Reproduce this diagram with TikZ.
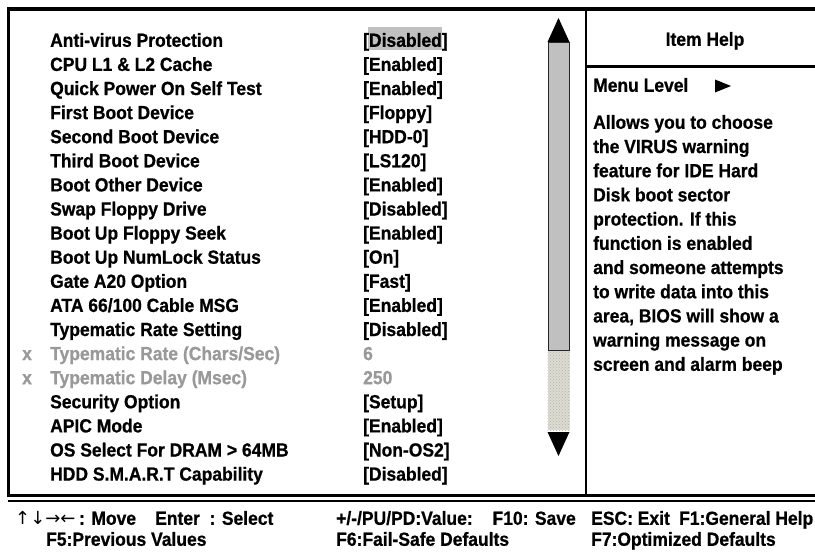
\documentclass[tikz,border=0pt]{standalone}
\usepackage{fontspec}
\setmainfont{Liberation Sans}[FakeStretch=0.92,BoldFeatures={FakeBold=0.7}]
\newfontfamily\arrowfont{DejaVu Sans}
\usetikzlibrary{patterns}
\definecolor{dimtext}{HTML}{999999}
\definecolor{hlgrey}{HTML}{C0C0C0}
\definecolor{barGrey}{HTML}{C0C0C0}
\definecolor{trackGrey}{HTML}{DCDCD2}
\definecolor{trackDots}{HTML}{B4B4A8}
\begin{document}
\begin{tikzpicture}[x=1pt,y=-1pt,
  lbl/.style={anchor=base west,inner sep=0pt,font=\fontsize{19}{23}\selectfont\bfseries},
  dimlbl/.style={lbl,text=dimtext},
  ctr/.style={lbl,anchor=base},
  arrowtxt/.style={anchor=base west,inner sep=0pt,font=\fontsize{18}{21}\arrowfont},
  frameline/.style={line width=3pt},
]
\useasboundingbox (0,0) rectangle (815,552);
\fill[white] (0,0) rectangle (815,552);

% frame
\draw[line width=3.5pt] (7,9) -- (815,9);
\draw[frameline] (8.5,7.5) -- (8.5,496);
\draw[frameline] (7,495.5) -- (815,495.5);
\draw[line width=2pt] (8,500.5) -- (815,500.5);
\draw[line width=2.5pt] (586,9) -- (586,496);
\draw[frameline] (586,66.5) -- (815,66.5);

% highlight
\fill[hlgrey] (368,27) rectangle (442,50);

% menu rows
\node[lbl] (l1) at (50,46.8) {Anti-virus Protection};
\node[lbl] (v1) at (363,46.8) {[Disabled]};
\node[lbl] (l2) at (50,70.9) {CPU L1 \& L2 Cache};
\node[lbl] (v2) at (363,70.9) {[Enabled]};
\node[lbl] (l3) at (50,95.0) {Quick Power On Self Test};
\node[lbl] (v3) at (363,95.0) {[Enabled]};
\node[lbl] (l4) at (50,119.1) {First Boot Device};
\node[lbl] (v4) at (363,119.1) {[Floppy]};
\node[lbl] (l5) at (50,143.2) {Second Boot Device};
\node[lbl] (v5) at (363,143.2) {[HDD-0]};
\node[lbl] (l6) at (50,167.3) {Third Boot Device};
\node[lbl] (v6) at (363,167.3) {[LS120]};
\node[lbl] (l7) at (50,191.4) {Boot Other Device};
\node[lbl] (v7) at (363,191.4) {[Enabled]};
\node[lbl] (l8) at (50,215.5) {Swap Floppy Drive};
\node[lbl] (v8) at (363,215.5) {[Disabled]};
\node[lbl] (l9) at (50,239.6) {Boot Up Floppy Seek};
\node[lbl] (v9) at (363,239.6) {[Enabled]};
\node[lbl] (l10) at (50,263.7) {Boot Up NumLock Status};
\node[lbl] (v10) at (363,263.7) {[On]};
\node[lbl] (l11) at (50,287.8) {Gate A20 Option};
\node[lbl] (v11) at (363,287.8) {[Fast]};
\node[lbl] (l12) at (50,311.9) {ATA 66/100 Cable MSG};
\node[lbl] (v12) at (363,311.9) {[Enabled]};
\node[lbl] (l13) at (50,336.0) {Typematic Rate Setting};
\node[lbl] (v13) at (363,336.0) {[Disabled]};
\node[dimlbl] (x14) at (22,360.1) {x};
\node[dimlbl] (l14) at (50,360.1) {Typematic Rate (Chars/Sec)};
\node[dimlbl] (v14) at (363,360.1) {6};
\node[dimlbl] (x15) at (22,384.2) {x};
\node[dimlbl] (l15) at (50,384.2) {Typematic Delay (Msec)};
\node[dimlbl] (v15) at (363,384.2) {250};
\node[lbl] (l16) at (50,408.3) {Security Option};
\node[lbl] (v16) at (363,408.3) {[Setup]};
\node[lbl] (l17) at (50,432.4) {APIC Mode};
\node[lbl] (v17) at (363,432.4) {[Enabled]};
\node[lbl] (l18) at (50,456.5) {OS Select For DRAM > 64MB};
\node[lbl] (v18) at (363,456.5) {[Non-OS2]};
\node[lbl] (l19) at (50,480.6) {HDD S.M.A.R.T Capability};
\node[lbl] (v19) at (363,480.6) {[Disabled]};

% scrollbar
\fill (547.5,42) -- (569.5,42) -- (558.5,18) -- cycle;
\fill[trackGrey] (547.5,350) rectangle (569.5,430);
\fill[pattern=crosshatch dots,pattern color=trackDots] (547.5,350) rectangle (569.5,430);
\draw[fill=barGrey,draw=black!85,line width=1pt] (548,42) rectangle (569,350);
\fill (547.5,432) -- (569.5,432) -- (558.5,456) -- cycle;

% help panel
\node[ctr] (ih) at (705,45.8) {Item Help};
\node[lbl] (ml) at (593,91.8) {Menu Level};
\fill (715,79.5) -- (715,92.5) -- (731,86) -- cycle;
\node[lbl] (h1) at (593,128.8) {Allows you to choose};
\node[lbl] (h2) at (593,153.0) {the VIRUS warning};
\node[lbl] (h3) at (593,177.2) {feature for IDE Hard};
\node[lbl] (h4) at (593,201.4) {Disk boot sector};
\node[lbl] (h5) at (593,225.6) {protection. If this};
\node[lbl] (h6) at (593,249.8) {function is enabled};
\node[lbl] (h7) at (593,274.0) {and someone attempts};
\node[lbl] (h8) at (593,298.2) {to write data into this};
\node[lbl] (h9) at (593,322.4) {area, BIOS will show a};
\node[lbl] (h10) at (593,346.6) {warning message on};
\node[lbl] (h11) at (593,370.8) {screen and alarm beep};

% footer
\node[arrowtxt] (fa) at (15,524.8) {↑↓→←};
\node[lbl,anchor=base west] (fm) at (fa.base east) {\,: Move};
\node[lbl] (fe) at (155,524.8) {Enter\ \ : Select};
\node[lbl] (fv) at (336,524.8) {+/-/PU/PD:Value:};
\node[lbl,anchor=base east] (fs) at (576,524.8) {F10: Save};
\node[lbl] (fx) at (591,524.8) {ESC: Exit};
\node[lbl] (fh) at (679,524.8) {F1:General Help};
\node[lbl] (f5) at (46,545.8) {F5:Previous Values};
\node[lbl] (f6) at (336,545.8) {F6:Fail-Safe Defaults};
\node[lbl] (f7) at (591,545.8) {F7:Optimized Defaults};
\end{tikzpicture}
\end{document}
